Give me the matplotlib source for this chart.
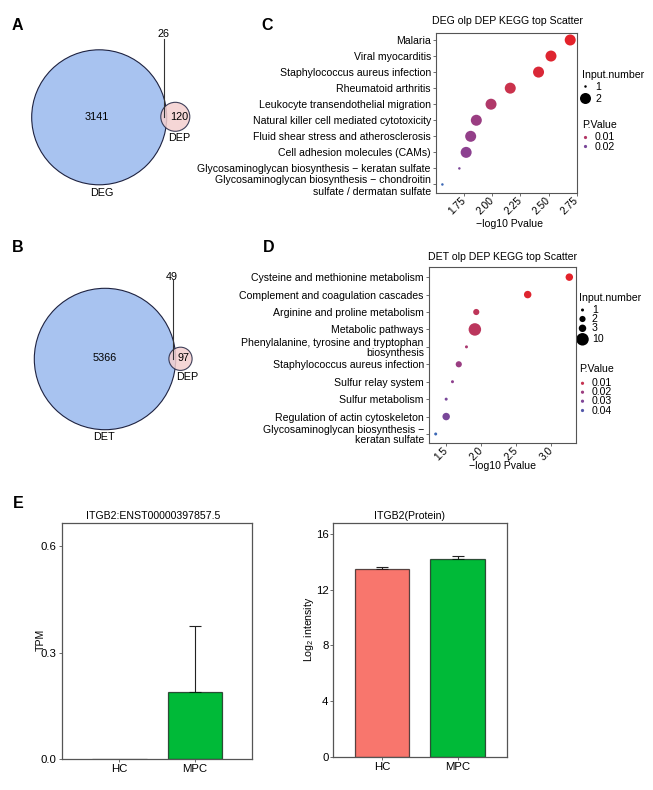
import numpy as np
import matplotlib
matplotlib.use("Agg")
import matplotlib.pyplot as plt
from matplotlib.patches import Circle
from matplotlib.colors import LinearSegmentedColormap, Normalize

plt.rcParams['font.family'] = ['Liberation Sans', 'DejaVu Sans']
plt.rcParams['mathtext.fontset'] = 'custom'
plt.rcParams['mathtext.rm'] = 'Liberation Sans'
plt.rcParams['mathtext.it'] = 'Liberation Sans:italic'

# ---------------- data ----------------
venn_a_sets = ["DEG", "DEP"]
venn_a_only = [3141, 120]
venn_a_both = 26
venn_b_sets = ["DET", "DEP"]
venn_b_only = [5366, 97]
venn_b_both = 49

c_terms = ["Malaria", "Viral myocarditis", "Staphylococcus aureus infection",
           "Rheumatoid arthritis", "Leukocyte transendothelial migration",
           "Natural killer cell mediated cytotoxicity",
           "Fluid shear stress and atherosclerosis", "Cell adhesion molecules (CAMs)",
           "Glycosaminoglycan biosynthesis \u2212 keratan sulfate",
           "Glycosaminoglycan biosynthesis \u2212 chondroitin\nsulfate / dermatan sulfate"]
c_neglog10p = [2.69, 2.52, 2.41, 2.16, 1.99, 1.86, 1.81, 1.77, 1.71, 1.56]
c_count = [2, 2, 2, 2, 2, 2, 2, 2, 1, 1]
c_xticks = [1.75, 2.00, 2.25, 2.50, 2.75]
c_legend_sizes = [1, 2]
c_legend_p = [0.01, 0.02]

d_terms = ["Cysteine and methionine metabolism", "Complement and coagulation cascades",
           "Arginine and proline metabolism", "Metabolic pathways",
           "Phenylalanine, tyrosine and tryptophan\nbiosynthesis",
           "Staphylococcus aureus infection", "Sulfur relay system", "Sulfur metabolism",
           "Regulation of actin cytoskeleton",
           "Glycosaminoglycan biosynthesis \u2212\nkeratan sulfate"]
d_neglog10p = [3.26, 2.665, 1.93, 1.91, 1.79, 1.68, 1.59, 1.50, 1.50, 1.35]
d_count = [3, 3, 2, 10, 1, 2, 1, 1, 3, 1]
d_xticks = [1.5, 2.0, 2.5, 3.0]
d_legend_sizes = [1, 2, 3, 10]
d_legend_p = [0.01, 0.02, 0.03, 0.04]

groups = ["HC", "MPC"]
tpm_mean = [0.0, 0.1885]
tpm_sd = [0.0, 0.1865]
tpm_ticks = [0.0, 0.3, 0.6]
prot_mean = [13.48, 14.20]
prot_sd = [0.19, 0.26]
prot_ticks = [0, 4, 8, 12, 16]
bar_colors = ["#F8766D", "#00BA38"]

# ---------------- layout helpers ----------------
W, H = 653, 790
fig = plt.figure(figsize=(W / 100, H / 100), dpi=100)
bg = fig.add_axes([0, 0, 1, 1])
bg.set_xlim(0, W)
bg.set_ylim(H, 0)
bg.axis('off')


def add_ax(l, t, r, b):
    return fig.add_axes([l / W, 1 - b / H, (r - l) / W, (b - t) / H])


FS = 7.6
SPINE = "#555555"
cmap = LinearSegmentedColormap.from_list(
    "pv", ["#E3222A", "#C8334E", "#A13B7A", "#8A4192", "#6A4CA0", "#3C68B5"])

# panel letters
for lab, x, y in [("A", 11.5, 29.5), ("B", 11.5, 252.5), ("C", 261.5, 29.5),
                  ("D", 262.5, 252), ("E", 13, 507.5)]:
    bg.text(x, y, lab, fontsize=11.5, fontweight='bold', ha='left', va='baseline')


# ---------------- Venn ----------------
def venn(sets, only, both, k, c1, c2, num_xy, setlab_xy, ovl_xy, line_x, line_y):
    n1 = only[0] + both
    n2 = only[1] + both
    r1 = k * np.sqrt(n1)
    r2 = k * np.sqrt(n2)
    bg.add_patch(Circle(c1, r1, facecolor="#A8C3F0", edgecolor="#1e2240", lw=0.8, zorder=2))
    bg.add_patch(Circle(c2, r2, facecolor="#F4CFCF", edgecolor="#1e2240", lw=0.8,
                        alpha=0.85, zorder=3))
    bg.text(*num_xy[0], f"{only[0]}", fontsize=7.8, ha='center', va='center', zorder=5)
    bg.text(*num_xy[1], f"{only[1]}", fontsize=7.8, ha='center', va='center', zorder=5)
    bg.text(*setlab_xy[0], sets[0], fontsize=7.8, ha='center', va='center', zorder=5)
    bg.text(*setlab_xy[1], sets[1], fontsize=7.8, ha='center', va='center', zorder=5)
    bg.text(*ovl_xy, f"{both}", fontsize=7.8, ha='center', va='center', zorder=5)
    bg.plot([line_x, line_x], line_y, color="#333333", lw=0.8, zorder=4)


venn(venn_a_sets, venn_a_only, venn_a_both, 67.5 / np.sqrt(3167),
     (99.2, 117.3), (175.3, 116.8),
     [(97, 117.5), (179.5, 116.8)], [(102, 193.3), (179.5, 137.7)],
     (163.5, 34), 164.3, (39, 116.5))
venn(venn_b_sets, venn_b_only, venn_b_both, 70.7 / np.sqrt(5415),
     (105, 359), (180.5, 358.8),
     [(104.7, 357.7), (183.5, 357.7)], [(104, 437.3), (187, 376.7)],
     (172, 276.7), 173.3, (280, 359))


# ---------------- KEGG scatter ----------------
def scatter_panel(box, terms, xs, counts, dmin, dmax, xticks, xfmt, ylim, lsp,
                  title, title_xy, xlab_xy, legend_sizes, legend_p, leg):
    ax = add_ax(*box)
    n = len(terms)
    ypos = np.arange(n, 0, -1)
    xs = np.asarray(xs)
    p = 10 ** (-xs)
    norm = Normalize(p.min(), p.max())
    cnt = np.asarray(counts, dtype=float)
    cmin, cmax = cnt.min(), cnt.max()

    def size_of(v):
        d = dmin + (dmax - dmin) * np.sqrt((np.asarray(v, float) - cmin) / (cmax - cmin))
        return (d * 0.72) ** 2

    ax.scatter(xs, ypos, s=size_of(cnt), c=cmap(norm(p)), edgecolors='none', zorder=3)
    pad = 0.05 * (xs.max() - xs.min())
    ax.set_xlim(xs.min() - pad, xs.max() + pad)
    ax.set_ylim(*ylim)
    ax.set_yticks(ypos)
    ax.set_yticklabels(terms, fontsize=FS, linespacing=lsp)
    ax.set_xticks(xticks)
    ax.set_xticklabels([xfmt.format(v) for v in xticks], fontsize=7.4, rotation=45,
                       ha='right', va='center', rotation_mode='anchor')
    ax.tick_params(axis='both', length=2.2, width=0.6, color=SPINE, pad=1.5)
    ax.tick_params(axis='x', pad=2.0)
    for s in ax.spines.values():
        s.set_color(SPINE)
        s.set_linewidth(0.8)
    bg.text(*title_xy, title, fontsize=FS, ha='center', va='center')
    bg.text(*xlab_xy, "\u2212log10 Pvalue", fontsize=FS, ha='center', va='center')
    # legends
    lx, ty, size_ys, pty, p_ys = leg
    bg.text(lx, ty, "Input.number", fontsize=FS, ha='left', va='center')
    for v, yy in zip(legend_sizes, size_ys):
        bg.scatter([lx + 3.5], [yy], s=size_of(v), color='black', edgecolors='none')
        bg.text(lx + 13, yy, f"{v}", fontsize=FS, ha='left', va='center')
    bg.text(lx, pty, "P.Value", fontsize=FS, ha='left', va='center')
    for v, yy in zip(legend_p, p_ys):
        bg.scatter([lx + 3.5], [yy], s=(3.2 * 0.72) ** 2, color=cmap(norm(v)), edgecolors='none')
        bg.text(lx + 13, yy, f"{v:.2f}", fontsize=FS, ha='left', va='center')
    return ax


scatter_panel((436, 33.3, 577, 193.3), c_terms, c_neglog10p, c_count, 2.5, 11,
              c_xticks, "{:.2f}", (0.45, 10.417), 1.15,
              "DEG olp DEP KEGG top Scatter", (507.5, 20.7), (510, 224),
              c_legend_sizes, c_legend_p,
              (582, 74.5, [86.5, 98.5], 125.5, [137.5, 146.5]))

scatter_panel((429, 266.7, 576, 442.7), d_terms, d_neglog10p, d_count, 3.0, 12.5,
              d_xticks, "{:.1f}", (0.5, 10.6), 1.0,
              "DET olp DEP KEGG top Scatter", (503, 256.7), (502.5, 466),
              d_legend_sizes, d_legend_p,
              (579, 297.7, [310, 319, 328.3, 339.3], 369.3, [383.3, 392.2, 401.2, 410.5]))


# ---------------- bar charts ----------------
def bar_panel(box, means, sds, ylim, ticks, tfmt, xlim, title, title_xy, ylabel, ylab_xy):
    ax = add_ax(*box)
    x = np.arange(len(groups))
    ax.bar(x, means, width=0.72, color=bar_colors, edgecolor=(0, 0, 0, 0.65),
           linewidth=0.9, zorder=2)
    for xi, m, s in zip(x, means, sds):
        if s > 0:
            ax.errorbar([xi], [m], yerr=[[0], [s]], fmt='none', ecolor='#222222',
                        elinewidth=0.8, capsize=4.2, capthick=0.8, zorder=1)
    ax.set_xlim(*xlim)
    ax.set_ylim(*ylim)
    ax.set_xticks(x)
    ax.set_xticklabels(groups, fontsize=8.2)
    ax.set_yticks(ticks)
    ax.set_yticklabels([tfmt.format(t) for t in ticks], fontsize=8.2)
    ax.tick_params(axis='both', length=2, width=0.6, color=SPINE, pad=1.5)
    for s in ax.spines.values():
        s.set_color(SPINE)
        s.set_linewidth(0.9)
    bg.text(*title_xy, title, fontsize=FS, ha='center', va='center')
    bg.text(*ylab_xy, ylabel, fontsize=FS, ha='center', va='center', rotation=90)
    return ax


bar_panel((61.7, 523.3, 252.3, 759.3), tpm_mean, tpm_sd, (0, 0.664), tpm_ticks, "{:.1f}",
          (-0.76, 1.757), "ITGB2:ENST00000397857.5", (153, 515.7), "TPM", (40.3, 640))
bar_panel((333.3, 523.3, 507.3, 756.7), prot_mean, prot_sd, (0, 16.79), prot_ticks, "{:d}",
          (-0.643, 1.655), "ITGB2(Protein)", (409.7, 515.7),
          r"Log$_\mathregular{2}$ intensity", (309.3, 629))

fig.savefig("out.png", dpi=100)
